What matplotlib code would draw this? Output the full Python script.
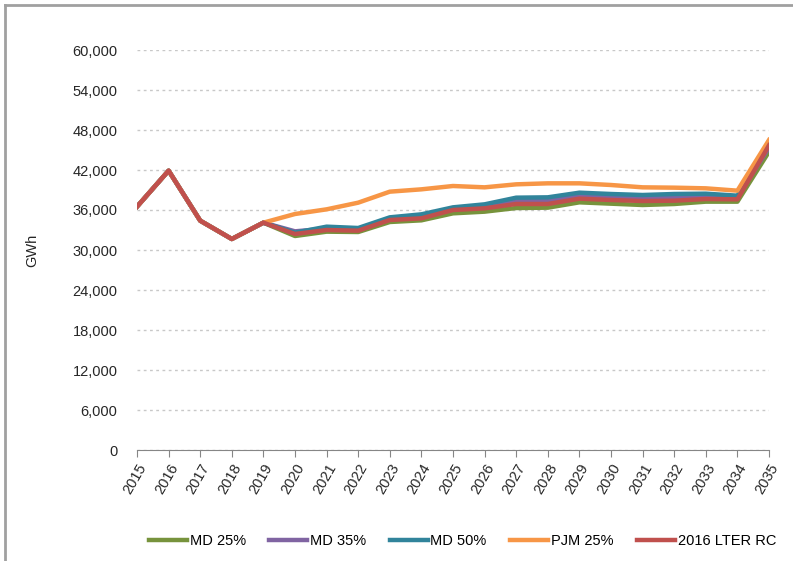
import numpy as np
import matplotlib.pyplot as plt
from matplotlib.lines import Line2D

# GWh by year, five scenarios
years = [str(y) for y in range(2015, 2036)]

md25 = [36500, 41900, 34400, 31650, 34100, 32100, 32750, 32700, 34200, 34450, 35500,
        35750, 36300, 36350, 37150, 36950, 36750, 36900, 37250, 37250, 44750]
md35 = [36500, 41900, 34400, 31650, 34100, 32800, 33200, 33100, 34700, 35000, 36200,
        36500, 37300, 37400, 38100, 37950, 37800, 37900, 38000, 37900, 45400]
md50 = [36500, 41900, 34400, 31650, 34100, 32600, 33500, 33300, 34900, 35350, 36400,
        36850, 37850, 37900, 38600, 38400, 38250, 38400, 38450, 38150, 46000]
pjm25 = [36500, 41900, 34400, 31650, 34100, 35400, 36100, 37100, 38750, 39100, 39600,
         39400, 39850, 40000, 40000, 39750, 39400, 39350, 39250, 38900, 46500]
lter = [36500, 41900, 34400, 31650, 34100, 32400, 33000, 32900, 34500, 34750, 36000,
        36250, 36900, 36900, 37700, 37500, 37350, 37400, 37650, 37600, 45700]

series = [("MD 25%", md25, "#77933C"),
          ("MD 35%", md35, "#8064A2"),
          ("MD 50%", md50, "#31849B"),
          ("PJM 25%", pjm25, "#F79646"),
          ("2016 LTER RC", lter, "#C0504D")]

plt.rcParams['font.family'] = ['Liberation Sans', 'DejaVu Sans']

fig = plt.figure(figsize=(7.93, 5.61), dpi=100)
ax = fig.add_axes([137/793, 111/561, (769-137)/793, 400/561])

x = np.arange(len(years))
for name, vals, col in series:
    ax.plot(x, vals, color=col, linewidth=3.2, label=name)

ax.set_xlim(0, len(years) - 1)
ax.set_ylim(0, 60000)
ax.set_yticks(np.arange(0, 60001, 6000))
ax.set_yticklabels([f"{v:,}" for v in range(0, 60001, 6000)], fontsize=10.5, color='#262626')
ax.set_xticks(x)
ax.set_xticklabels(years, rotation=60, ha='right', va='top', rotation_mode='anchor',
                   fontsize=10.5, color='#262626')
ax.tick_params(axis='y', length=0, pad=14)
ax.tick_params(axis='x', length=5, color='#868686', pad=3)

ax.grid(axis='y', linestyle=(0, (2, 2.5)), color='#C8C8C8', linewidth=1)
ax.set_axisbelow(True)
for s in ['top', 'right', 'left']:
    ax.spines[s].set_visible(False)
ax.spines['bottom'].set_color('#868686')
ax.spines['bottom'].set_zorder(0.5)

ax.set_ylabel("GWh", fontsize=10.5, color='#262626', labelpad=24)

ax.legend(loc='center', bbox_to_anchor=(0.515, -0.228), ncol=5, frameon=False,
          fontsize=10.5, handlelength=2.6, columnspacing=1.6, handletextpad=0.2)

# outer frame (top and left edges visible)
fig.add_artist(Line2D([5/793, 1], [1 - 5/561, 1 - 5/561], color='#A0A0A0', linewidth=2))
fig.add_artist(Line2D([5/793, 5/793], [0, 1 - 5/561], color='#A0A0A0', linewidth=2))

plt.savefig("out.png", dpi=100)
